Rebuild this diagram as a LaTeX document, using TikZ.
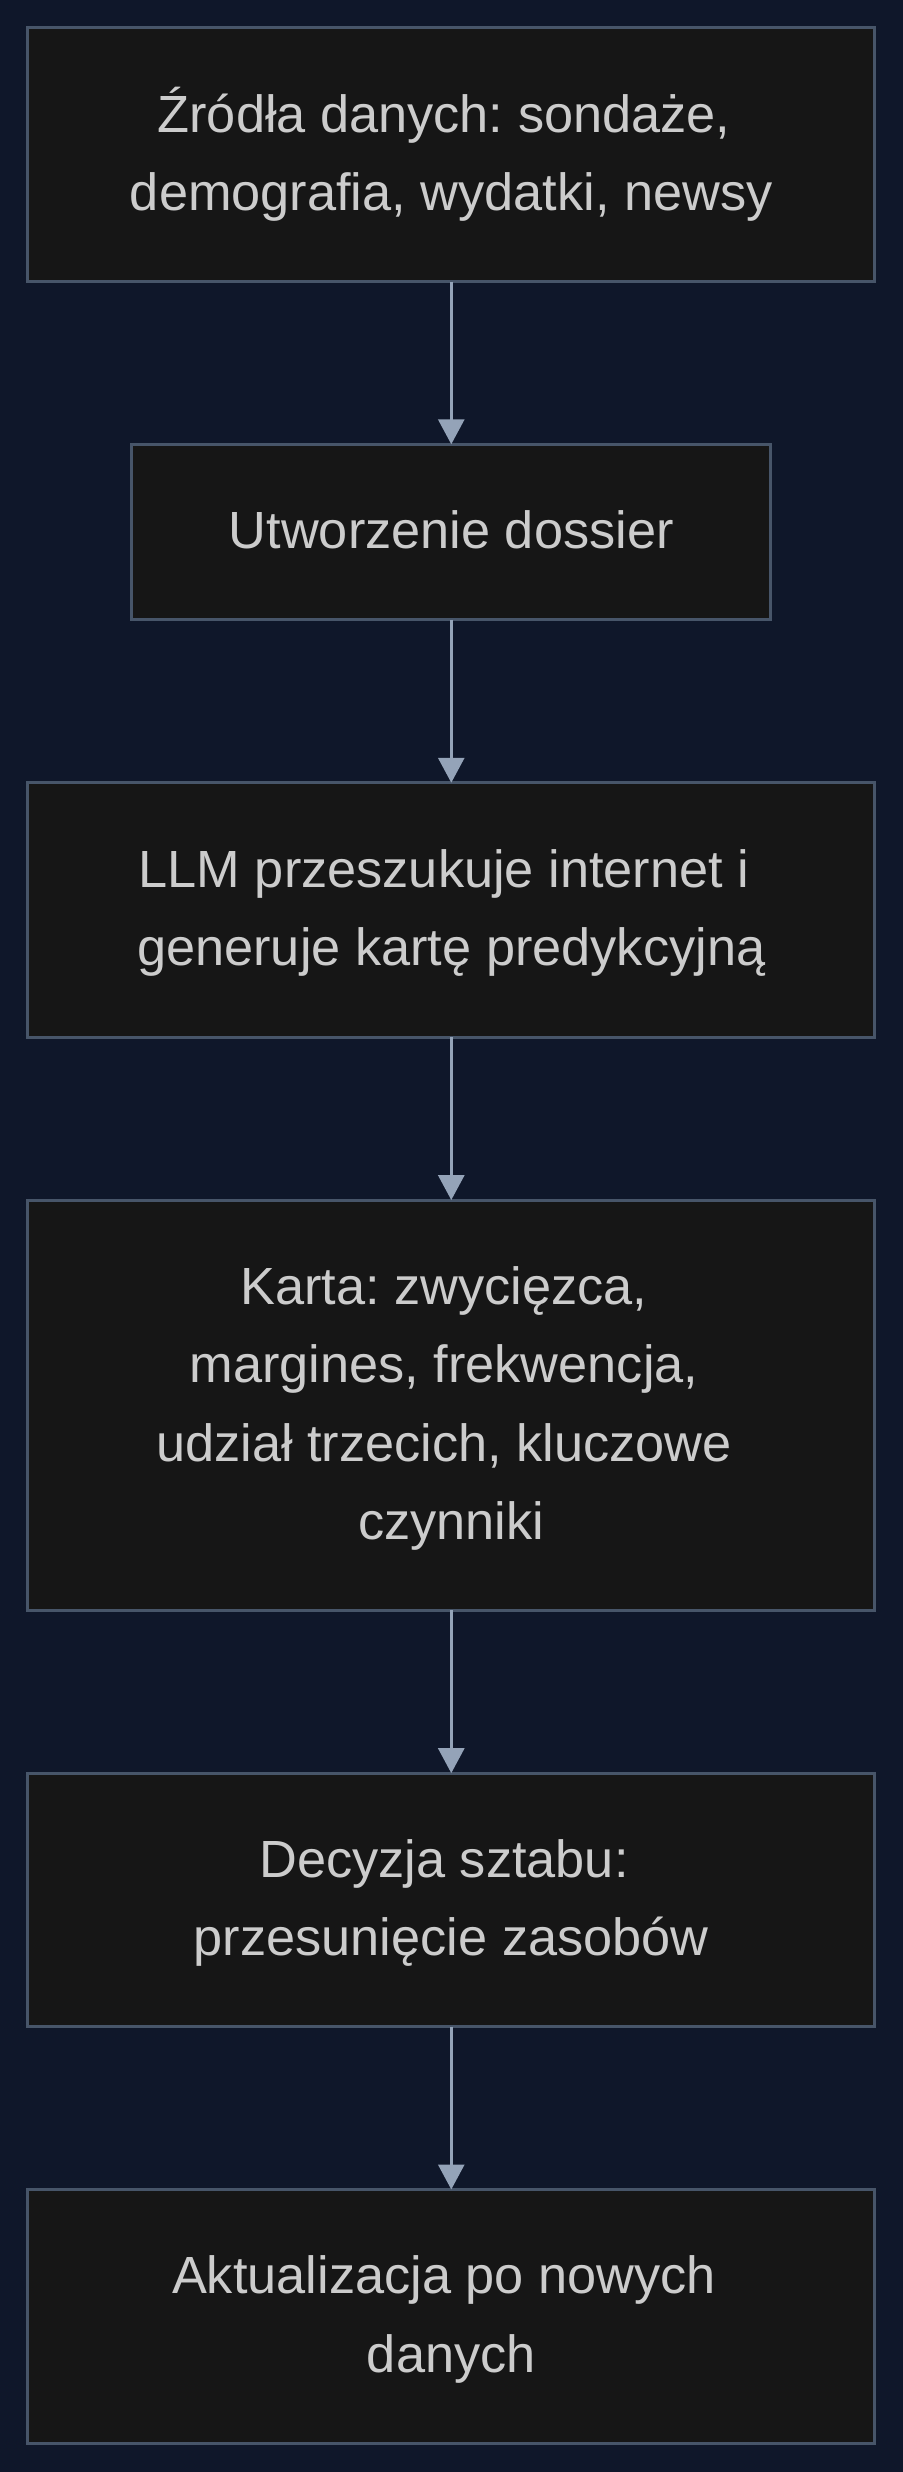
\documentclass[tikz,border=0pt]{standalone}
\usepackage{fontspec}
\setmainfont{Liberation Sans}
\usetikzlibrary{arrows.meta}
\definecolor{bgc}{HTML}{0F172A}
\definecolor{boxfill}{HTML}{161616}
\definecolor{boxline}{HTML}{475569}
\definecolor{arrc}{HTML}{94A3B8}
\definecolor{txt}{HTML}{CCCCCC}
\newcommand{\lst}{\rule[-11.2pt]{0pt}{39.2pt}}
\newcommand{\tsp}{\kern0.278em}
\frenchspacing
\begin{document}
\begin{tikzpicture}[x=0.5pt,y=-0.5pt,
  stepbox/.style={draw=boxline, fill=boxfill, line width=1.5pt, rectangle,
    minimum width=424pt, align=center, text=txt, inner sep=0pt, outer sep=0pt,
    font=\fontsize{26.2pt}{39.2pt}\selectfont\frenchspacing},
  arr/.style={draw=arrc, line width=1.5pt, -{Triangle[width=13pt,length=12.5pt]}, color=arrc}]
  \fill[bgc] (-2,-2) rectangle (902,2474);
  \useasboundingbox (0,0) rectangle (900,2472);
  \node[stepbox, minimum height=127pt] (b1) at (450,153) {\lst Źródła danych: sondaże,\tsp\\\lst demografia, wydatki, newsy};
  \node[stepbox, minimum width=320pt, minimum height=88pt] (b2) at (450,531) {\lst Utworzenie dossier};
  \node[stepbox, minimum height=127.5pt] (b3) at (450,909.5) {\lst LLM przeszukuje internet i\tsp\\\lst generuje kartę predykcyjną};
  \node[stepbox, minimum height=205.5pt] (b4) at (450,1405.5) {\lst Karta: zwycięzca,\tsp\\\lst margines, frekwencja,\tsp\\\lst udział trzecich, kluczowe\tsp\\\lst czynniki};
  \node[stepbox, minimum height=127pt] (b5) at (450,1901) {\lst Decyzja sztabu:\tsp\\\lst przesunięcie zasobów};
  \node[stepbox, minimum height=127pt] (b6) at (450,2318) {\lst Aktualizacja po nowych\tsp\\\lst danych};
  \draw[arr] (b1.south) -- (b2.north);
  \draw[arr] (b2.south) -- (b3.north);
  \draw[arr] (b3.south) -- (b4.north);
  \draw[arr] (b4.south) -- (b5.north);
  \draw[arr] (b5.south) -- (b6.north);
\end{tikzpicture}
\end{document}
